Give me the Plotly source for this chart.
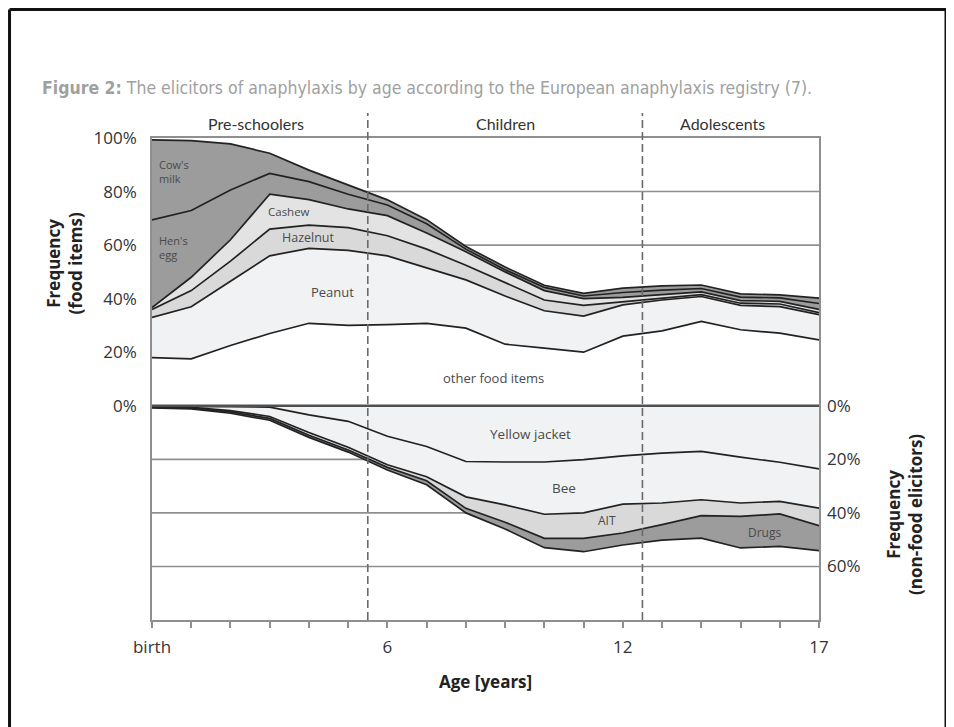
import plotly.graph_objects as go

# ---------------- data ----------------
ages = list(range(18))  # 0 = birth ... 17 years

# food elicitors (share in %, stacked upward)
other_food = [18, 17.5, 22.5, 27, 30.8, 30, 30.3, 30.8, 29, 23, 21.5, 20, 26, 28, 31.5, 28.4, 27.1, 24.6]
peanut     = [15, 19.5, 24, 29, 28, 28, 25.7, 20.7, 18, 18, 14, 13.5, 11.7, 11.5, 9.3, 9.1, 9.9, 9.4]
hazelnut   = [3, 6, 7.5, 10, 8.7, 8.5, 7.5, 7, 5.5, 5, 4, 4, 1.2, 0.7, 0.7, 0.8, 1, 0.8]
cashew     = [0.7, 5, 8, 13, 9.5, 7, 7.5, 6, 5, 4, 3.5, 2.5, 1.6, 1.3, 1, 1, 1, 1.2]
hens_egg   = [32.7, 24.9, 18.6, 7.8, 6.7, 5.5, 4, 3.5, 1, 0.8, 1.2, 1, 1.8, 1.7, 1.3, 1.3, 1.3, 2.2]
cows_milk  = [29.9, 26.1, 17.2, 7.5, 4.3, 3.5, 1.9, 1.5, 1, 1, 0.8, 1, 1.6, 1.6, 1.3, 1.2, 1.1, 2]

# non-food elicitors (share in %, stacked downward)
yellow_jacket = [0.2, 0.2, 0.3, 0.5, 3.4, 5.8, 11.4, 15.2, 20.8, 21, 21, 20.1, 18.7, 17.7, 17, 19.2, 21.1, 23.6]
bee           = [0.2, 0.4, 1.5, 3.5, 6.6, 9.7, 10.6, 11.3, 13.2, 16, 19.5, 19.9, 18, 18.6, 18.1, 17.1, 14.6, 14.6]
ait           = [0.2, 0.3, 0.5, 0.7, 1, 1, 1, 1.5, 4.3, 6.5, 9, 9.5, 10.8, 8.1, 5.9, 5, 4.7, 6.6]
drugs         = [0.2, 0.3, 0.5, 0.7, 0.8, 0.8, 1, 1.5, 1.7, 2.5, 3.5, 5, 4.5, 5.8, 8.4, 11.8, 12.1, 9.3]

x_tick_vals = ages
x_tick_text = ["birth", "", "", "", "", "", "6", "", "", "", "", "", "12", "", "", "", "", "17"]
left_tick_vals = [100, 80, 60, 40, 20, 0]
left_tick_text = ["100%", "80%", "60%", "40%", "20%", "0%"]
right_tick_vals = [0, -20, -40, -60]
right_tick_text = ["0%", "20%", "40%", "60%"]
grid_vals = [80, 60, 40, 20, -20, -40, -60]
period_bounds = [5.5, 12.5]
periods = ["Pre-schoolers", "Children", "Adolescents"]
period_centers = [2.65, 9.0, 14.55]

# ---------------- styles ----------------
FONT = "'Open Sans', Lato, sans-serif"
FONT2 = "Lato, 'Open Sans', sans-serif"
TXT = "#333333"
LINE = "#222222"
DARK = "#9c9c9c"
MID = "#d9d9d9"
MID2 = "#e3e3e3"
LIGHT = "#f1f2f4"

fig = go.Figure()

food_layers = [
    ("other food items", other_food, "#ffffff"),
    ("Peanut", peanut, LIGHT),
    ("Hazelnut", hazelnut, MID),
    ("Cashew", cashew, MID2),
    ("Hen's egg", hens_egg, DARK),
    ("Cow's milk", cows_milk, DARK),
]
for name, vals, col in food_layers:
    fig.add_trace(go.Scatter(
        x=ages, y=vals, name=name, stackgroup="food", mode="lines",
        line=dict(color=LINE, width=1.7), fillcolor=col, hoverinfo="skip"))

nonfood_layers = [
    ("Yellow jacket", yellow_jacket, LIGHT),
    ("Bee", bee, LIGHT),
    ("AIT", ait, MID),
    ("Drugs", drugs, DARK),
]
for name, vals, col in nonfood_layers:
    fig.add_trace(go.Scatter(
        x=ages, y=[-v for v in vals], name=name, stackgroup="nonfood", mode="lines",
        line=dict(color=LINE, width=1.7), fillcolor=col, hoverinfo="skip"))

# invisible trace so the right-hand axis is drawn
fig.add_trace(go.Scatter(x=[0], y=[0], yaxis="y2", mode="markers",
                         marker=dict(opacity=0), hoverinfo="skip", showlegend=False))

shapes = []
for g in grid_vals:
    shapes.append(dict(type="line", xref="x", yref="y", x0=0, x1=17, y0=g, y1=g,
                       line=dict(color="#8f8f8f", width=1.6), layer="below"))
# zero line
shapes.append(dict(type="line", xref="x", yref="y", x0=0, x1=17, y0=0, y1=0,
                   line=dict(color="#505050", width=2.5), layer="above"))
# period separators
for b in period_bounds:
    shapes.append(dict(type="line", xref="x", yref="paper", x0=b, x1=b, y0=0, y1=1.052,
                       line=dict(color="#6a6a6a", width=1.6, dash="8px,4px"), layer="above"))
# figure frame (left, top, right)
FL, FT, FR, FB = -0.2136, 1.2666, 1.1904, -0.30
frame = dict(color="#111111", width=3)
shapes.append(dict(type="line", xref="paper", yref="paper", x0=FL, x1=FL, y0=FT, y1=FB, line=frame))
shapes.append(dict(type="line", xref="paper", yref="paper", x0=FL, x1=FR, y0=FT, y1=FT, line=frame))
shapes.append(dict(type="line", xref="paper", yref="paper", x0=FR, x1=FR, y0=FT, y1=FB, line=frame))

ann = []
def lab(text, x, y, size=12, xanchor="center", align="center"):
    ann.append(dict(text=text, x=x, y=y, xref="x", yref="y", showarrow=False,
                    font=dict(family=FONT, size=size, color="#4a4a4a"),
                    xanchor=xanchor, align=align))

lab("Cow's<br>milk", 0.12, 87.5, size=11, xanchor="left", align="left")
lab("Hen's<br>egg", 0.12, 59, size=11, xanchor="left", align="left")
lab("Cashew", 3.5, 72.4, size=11.5)
lab("Hazelnut", 4.0, 62.7, size=12.5)
lab("Peanut", 4.6, 42.5, size=13)
lab("other food items", 8.7, 10.4, size=13)
lab("Yellow jacket", 9.65, -10.4, size=13.5)
lab("Bee", 10.5, -30.6, size=13.5)
lab("AIT", 11.6, -42.9, size=12)
lab("Drugs", 15.6, -47.4, size=12)

for p, c in zip(periods, period_centers):
    ann.append(dict(text=p, x=c, y=1.03, xref="x", yref="paper", showarrow=False,
                    font=dict(family=FONT2, size=16, color=TXT), yanchor="middle"))

TITLEF = dict(family=FONT, size=17, color="#222222", weight="bold")
ann.append(dict(text="Frequency<br>(food items)", x=-0.131, y=0.739, xref="paper", yref="paper",
                showarrow=False, textangle=-90, font=TITLEF, xanchor="center", yanchor="middle"))
ann.append(dict(text="Frequency<br>(non-food elicitors)", x=1.129, y=0.218, xref="paper", yref="paper",
                showarrow=False, textangle=-90, font=TITLEF, xanchor="center", yanchor="middle"))
ann.append(dict(text="Age [years]", x=8.49, y=-0.1266, xref="x", yref="paper", showarrow=False,
                font=TITLEF, yanchor="middle"))
ann.append(dict(text="<b>Figure 2:</b> The elicitors of anaphylaxis by age according to the European anaphylaxis registry (7).",
                x=-0.168, y=1.104, xref="paper", yref="paper", showarrow=False, xanchor="left", yanchor="middle",
                font=dict(family="'DejaVu Sans Condensed', 'Liberation Sans Narrow', sans-serif",
                          size=17.5, color="#a0a0a0")))

TICKF = dict(family=FONT, size=17, color=TXT)
fig.update_layout(
    width=954, height=727,
    margin=dict(l=144, r=143, t=130, b=115),
    paper_bgcolor="white", plot_bgcolor="white",
    showlegend=False, hovermode=False,
    font=dict(family=FONT, size=15, color=TXT),
    xaxis=dict(range=[0, 17], tickvals=x_tick_vals, ticktext=x_tick_text,
               ticks="outside", ticklen=6, tickwidth=1.5, tickcolor="#8f8f8f",
               showline=True, linecolor="#8f8f8f", linewidth=1.6, mirror=True,
               showgrid=False, zeroline=False, ticklabelstandoff=5, tickfont=TICKF),
    yaxis=dict(range=[-80, 100], tickvals=left_tick_vals, ticktext=left_tick_text,
               showline=True, linecolor="#8f8f8f", linewidth=1.6, mirror=True,
               showgrid=False, zeroline=False, ticks="", ticklabelstandoff=10, tickfont=TICKF),
    yaxis2=dict(range=[-80, 100], overlaying="y", side="right", tickvals=right_tick_vals,
                ticktext=right_tick_text, showgrid=False, zeroline=False, showline=False,
                ticks="", ticklabelstandoff=7, tickfont=TICKF),
    shapes=shapes, annotations=ann,
)

fig.write_html("out.html")
